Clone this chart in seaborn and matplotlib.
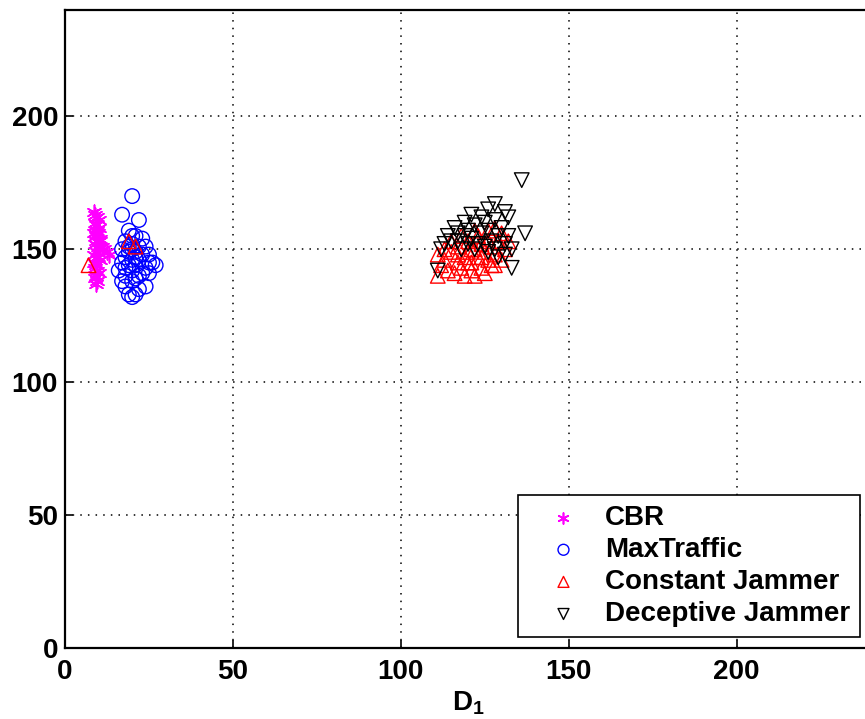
import matplotlib
matplotlib.use("Agg")
import matplotlib.pyplot as plt
import seaborn as sns
import pandas as pd

# ---------------- data ----------------
cbr_x = [8.5, 9.0, 9.5, 10.0, 8.8, 9.2, 10.2, 9.6, 8.7, 9.1, 10.4, 9.3, 8.9, 9.8,
         10.1, 9.4, 8.6, 9.7, 10.3, 9.0, 11.5, 12.5, 13.0, 11.0, 9.2, 8.8, 9.5,
         10.0, 9.3, 8.9, 9.6, 9.1, 8.7, 9.4, 10.5, 9.9]
cbr_y = [164, 163, 162, 161, 160, 159, 158, 157, 156, 155, 154, 153, 152, 151,
         150, 149, 148, 147, 146, 145, 150, 149, 148, 151, 144, 143, 142, 141,
         140, 139, 138, 137, 145, 147, 153, 156]

mt_x = [20, 17, 22, 19, 21, 18, 20, 22, 24, 17, 19, 21, 23, 25, 18, 20, 22, 26,
        17, 19, 21, 24, 16, 20, 23, 27, 18, 22, 25, 17, 20, 24, 19, 21, 20, 22,
        18, 20, 21, 19, 23, 18, 25, 20, 21]
mt_y = [170, 163, 161, 157, 155, 153, 152, 151, 151, 150, 149, 149, 148, 148,
        147, 146, 146, 145, 145, 144, 144, 143, 142, 142, 141, 144, 140, 140,
        141, 138, 138, 136, 133, 133, 132, 135, 136, 150, 147, 151, 154, 143,
        145, 155, 139]

cj_x = [7, 19, 21, 111, 112, 111, 113, 114, 115, 116, 117, 117, 118, 119, 119,
        120, 120, 121, 121, 122, 122, 123, 123, 124, 124, 125, 125, 126, 126,
        127, 127, 128, 128, 129, 130, 130, 131, 132, 118, 115, 122, 126, 120,
        124, 117, 113, 128, 121]
cj_y = [144, 153, 151, 148, 144, 140, 146, 142, 149, 141, 145, 151, 143, 140,
        147, 153, 149, 142, 145, 150, 140, 155, 147, 143, 152, 149, 141, 157,
        146, 151, 144, 158, 148, 153, 156, 146, 150, 153, 155, 153, 157, 153,
        145, 147, 148, 150, 144, 150]

dj_x = [136, 137, 133, 128, 126, 131, 132, 121, 124, 116, 115, 113, 111, 112,
        114, 117, 118, 119, 120, 121, 122, 123, 124, 125, 126, 127, 128, 129,
        130, 131, 132, 133, 128, 125, 122, 120, 119, 117, 126, 129, 131]
dj_y = [176, 156, 143, 167, 165, 164, 162, 163, 162, 158, 153, 152, 142, 150,
        155, 156, 150, 160, 157, 154, 159, 152, 156, 160, 157, 153, 161, 155,
        158, 152, 155, 150, 150, 151, 150, 152, 155, 153, 149, 147, 148]

series_names = ["CBR", "MaxTraffic", "Constant Jammer", "Deceptive Jammer"]
x_ticks = [0, 50, 100, 150, 200]
y_ticks = [0, 50, 100, 150, 200]

# ---------------- style ----------------
sns.set_theme(style="white")
plt.rcParams["font.family"] = ["Liberation Sans", "DejaVu Sans"]
plt.rcParams["font.weight"] = "bold"
plt.rcParams["text.color"] = "black"
plt.rcParams["axes.labelcolor"] = "black"
plt.rcParams["xtick.color"] = "black"
plt.rcParams["ytick.color"] = "black"
plt.rcParams["mathtext.fontset"] = "custom"
plt.rcParams["mathtext.bf"] = "Liberation Sans:bold"
plt.rcParams["mathtext.rm"] = "Liberation Sans:bold"

fig = plt.figure(figsize=(8.65, 7.19), dpi=100)
ax = fig.add_axes([65 / 865, 71 / 719, 806 / 865, 638 / 719])

df_cbr = pd.DataFrame({"x": cbr_x, "y": cbr_y})
df_mt = pd.DataFrame({"x": mt_x, "y": mt_y})
df_cj = pd.DataFrame({"x": cj_x, "y": cj_y})
df_dj = pd.DataFrame({"x": dj_x, "y": dj_y})

sns.scatterplot(data=df_cbr, x="x", y="y", ax=ax, marker=(6, 2, 0), s=110,
                color="magenta", linewidth=1.2, label=series_names[0])
sns.scatterplot(data=df_mt, x="x", y="y", ax=ax, marker="o", s=110,
                facecolor="none", edgecolor="blue", linewidth=1.0,
                label=series_names[1])
sns.scatterplot(data=df_cj, x="x", y="y", ax=ax, marker="^", s=110,
                facecolor="none", edgecolor="red", linewidth=1.0,
                label=series_names[2])
sns.scatterplot(data=df_dj, x="x", y="y", ax=ax, marker="v", s=110,
                facecolor="none", edgecolor="black", linewidth=1.0,
                label=series_names[3])

ax.set_xlim(0, 240)
ax.set_ylim(0, 240)
ax.set_xticks(x_ticks)
ax.set_yticks(y_ticks)
ax.set_xticklabels([str(t) for t in x_ticks], fontsize=20, fontweight="bold")
ax.set_yticklabels([str(t) for t in y_ticks], fontsize=20, fontweight="bold")
ax.tick_params(axis="x", pad=8)
ax.tick_params(direction="in", length=6, width=1.2, colors="black",
               top=False, right=False, bottom=True, left=True)
ax.tick_params(axis="y", pad=5)
ax.grid(True, linestyle=(0, (1, 4)), color="black", linewidth=1.1)
for sp in ax.spines.values():
    sp.set_color("black")
    sp.set_linewidth(1.6)

ax.set_xlabel(r"$\mathbf{D_1}$", fontsize=20, labelpad=3, color="black")
ax.set_ylabel("")

leg = ax.legend(loc="lower right", bbox_to_anchor=(860 / 865, 82 / 719),
                bbox_transform=fig.transFigure, borderaxespad=0,
                frameon=True, fancybox=False, markerscale=0.75,
                prop={"family": "Liberation Sans", "weight": "bold", "size": 20},
                handletextpad=0.2, labelspacing=0.22, borderpad=0.35,
                handlelength=2.6)
leg.get_frame().set_edgecolor("black")
leg.get_frame().set_linewidth(1.2)
leg.get_frame().set_alpha(1)
for t in leg.get_texts():
    t.set_color("black")

fig.savefig("out.png", dpi=100)
